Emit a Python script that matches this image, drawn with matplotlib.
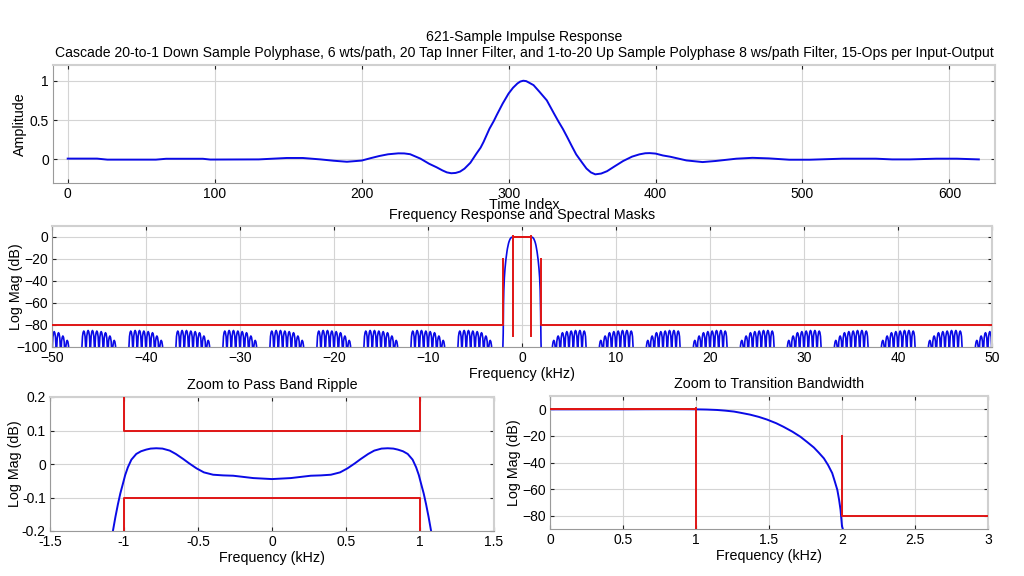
import matplotlib
matplotlib.use("Agg")
import matplotlib.pyplot as plt
import numpy as np

plt.rcParams["font.family"] = ["Liberation Sans", "DejaVu Sans"]
plt.rcParams["font.size"] = 10

# impulse response (sample index, amplitude)
ir_n = [0, 20, 27, 60, 67, 92, 97, 130, 149, 160, 172, 181, 190, 200, 206,
        212, 218, 225, 229, 233, 240, 246, 251, 255, 258, 261, 264, 267, 270,
        274, 278, 281, 283, 287, 290, 292, 296, 300, 303, 306, 308, 310, 312,
        314, 317, 321, 326, 331, 334, 337, 340, 343, 346, 350, 353, 356, 359,
        363, 367, 372, 378, 384, 389, 393, 396, 400, 405, 410, 421, 432, 441,
        455, 466, 477, 491, 505, 527, 550, 561, 573, 591, 605, 620]
ir_amp = [0.01, 0.01, -0.003, -0.003, 0.008, 0.008, -0.002, 0.0, 0.018, 0.018,
          0.0, -0.017, -0.03, -0.015, 0.015, 0.043, 0.065, 0.077, 0.076, 0.066,
          0.01, -0.056, -0.1, -0.14, -0.165, -0.176, -0.172, -0.155, -0.118,
          -0.043, 0.07, 0.15, 0.223, 0.39, 0.49, 0.566, 0.71, 0.837, 0.91,
          0.965, 0.99, 1.0, 0.995, 0.975, 0.944, 0.86, 0.751, 0.58, 0.48,
          0.386, 0.28, 0.17, 0.064, -0.04, -0.116, -0.165, -0.19, -0.18,
          -0.15, -0.09, -0.02, 0.035, 0.064, 0.078, 0.08, 0.074, 0.05, 0.034,
          -0.013, -0.034, -0.02, 0.009, 0.02, 0.013, -0.004, -0.004, 0.009,
          0.009, 0.0, 0.0, 0.009, 0.009, 0.0]

# pass band, positive half (kHz, dB)
pb_khz = [0.0, 0.127, 0.262, 0.33, 0.398, 0.46, 0.51, 0.56, 0.60, 0.65,
          0.691, 0.74, 0.782, 0.82, 0.85, 0.885, 0.917, 0.95, 0.974, 0.992,
          1.008, 1.025, 1.041, 1.058, 1.075]
pb_db = [-0.045, -0.042, -0.035, -0.034, -0.032, -0.025, -0.013, 0.002, 0.015,
         0.03, 0.04, 0.046, 0.047, 0.046, 0.043, 0.038, 0.03, 0.013, -0.01,
         -0.033, -0.06, -0.088, -0.12, -0.158, -0.2]

# transition band (kHz, dB)
tb_khz = [1.144, 1.2, 1.26, 1.3, 1.37, 1.43, 1.486, 1.55, 1.6, 1.66, 1.716,
          1.76, 1.807, 1.84, 1.876, 1.905, 1.933, 1.95, 1.968, 1.98, 1.99,
          2.0, 2.02, 2.05]
tb_db = [-0.5, -1.0, -1.7, -2.5, -4.0, -5.7, -7.7, -10.5, -13.2, -16.8,
         -20.7, -24.5, -28.7, -32.5, -36.9, -42.0, -48.0, -54.0, -60.6, -68.0,
         -75.6, -88.0, -95.0, -105.0]

# stop band lobe groups (group centres in kHz, lobe peaks outer->inner edge)
group_khz = [-50, -45, -40, -35, -30, -25, -20, -15, -10, -5,
             5, 10, 15, 20, 25, 30, 35, 40, 45, 50]
group_halfwidth = 1.85
lobe_peak_db = [-85.5, -85.0, -85.0, -85.5, -86.0, -87.0, -90.0, -94.0]
lobe_shape_pos = [0.0, 0.08, 0.2, 0.35, 0.5, 0.65, 0.8, 0.92, 1.0]
lobe_shape_db = [-40.0, -14.0, -5.0, -1.2, 0.0, -1.2, -5.0, -14.0, -40.0]

# spectral masks (kHz, dB)
mask_hi_khz = [-1, -1, 1, 1]
mask_hi_db = [1.0, 0.1, 0.1, 1.0]
mask_lo_khz = [-1, -1, 1, 1]
mask_lo_db = [-90, -0.1, -0.1, -90]
mask_sl_khz = [-50, -2, -2]
mask_sl_db = [-80, -80, -20]
mask_sr_khz = [2, 2, 50]
mask_sr_db = [-20, -80, -80]

BLUE = "#0a0ae6"
RED = "#e01515"
FS = 10.3


def group_curve(center, side):
    peaks = lobe_peak_db if side < 0 else lobe_peak_db[::-1]
    lw = 2 * group_halfwidth / len(peaks)
    start = center - group_halfwidth
    f, d = [], []
    for i, p in enumerate(peaks):
        for s, o in zip(lobe_shape_pos, lobe_shape_db):
            f.append(start + (i + s) * lw)
            d.append(p + o)
    return f, d


# one-sided main lobe then mirrored
half_f = pb_khz + tb_khz
half_d = pb_db + tb_db
main_f = [-x for x in half_f[::-1]] + half_f[1:]
main_d = half_d[::-1] + half_d[1:]

spec_f, spec_d = [], []
for c in [g for g in group_khz if g < 0]:
    f, d = group_curve(c, -1)
    spec_f += f
    spec_d += d
spec_f += main_f
spec_d += main_d
for c in [g for g in group_khz if g > 0]:
    f, d = group_curve(c, 1)
    spec_f += f
    spec_d += d


def style(ax):
    ax.grid(True, color="#d4d4d4", linewidth=0.8)
    ax.set_axisbelow(True)
    for s in ["bottom", "left"]:
        ax.spines[s].set_color("#9a9a9a")
    for s in ["top", "right"]:
        ax.spines[s].set_color("#d0d0d0")
        ax.spines[s].set_linewidth(1.5)
    ax.tick_params(direction="in", length=3, top=True, right=True,
                   labelsize=10, pad=3, color="#222222")


def masks(ax):
    for fx, dy in [(mask_hi_khz, mask_hi_db), (mask_lo_khz, mask_lo_db),
                   (mask_sl_khz, mask_sl_db), (mask_sr_khz, mask_sr_db)]:
        ax.plot(fx, dy, color=RED, lw=1.4, zorder=4)


W, H = 1024, 576
fig = plt.figure(figsize=(W / 100, H / 100), dpi=100)


def box(l, t, r, b):
    return [l / W, 1 - b / H, (r - l) / W, (b - t) / H]


# top: impulse response
ax1 = fig.add_axes(box(53, 65, 995, 183))
ax1.plot(ir_n, ir_amp, color=BLUE, lw=1.4)
ax1.set_xlim(-10, 631)
ax1.set_ylim(-0.3, 1.2)
ax1.set_xticks([0, 100, 200, 300, 400, 500, 600])
ax1.set_yticks([0, 0.5, 1])
ax1.set_yticklabels(["0", "0.5", "1"])
style(ax1)
ax1.set_title("621-Sample Impulse Response\nCascade 20-to-1 Down Sample Polyphase, 6 wts/path, "
              "20 Tap Inner Filter, and 1-to-20 Up Sample Polyphase 8 ws/path Filter, "
              "15-Ops per Input-Output", fontsize=10.05, pad=6, linespacing=1.15)
ax1.set_xlabel("Time Index", fontsize=FS, labelpad=-2)
ax1.set_ylabel("Amplitude", fontsize=FS)
ax1.yaxis.set_label_coords(-0.0276, 0.5)

# middle: full frequency response with masks
ax2 = fig.add_axes(box(52, 226, 992, 347))
ax2.plot(spec_f, spec_d, color=BLUE, lw=1.2)
masks(ax2)
ax2.set_xlim(-50, 50)
ax2.set_ylim(-100, 10)
ax2.set_xticks(range(-50, 51, 10))
ax2.set_yticks(range(-100, 1, 20))
style(ax2)
ax2.set_title("Frequency Response and Spectral Masks", fontsize=FS, pad=5)
ax2.set_xlabel("Frequency (kHz)", fontsize=FS, labelpad=1)
ax2.set_ylabel("Log Mag (dB)", fontsize=FS)
ax2.yaxis.set_label_coords(-0.031, 0.5)

# bottom left: pass band ripple
ax3 = fig.add_axes(box(50, 397, 494, 531))
ax3.plot(main_f, main_d, color=BLUE, lw=1.4)
masks(ax3)
ax3.set_xlim(-1.5, 1.5)
ax3.set_ylim(-0.2, 0.2)
ax3.set_xticks([-1.5, -1, -0.5, 0, 0.5, 1, 1.5])
ax3.set_xticklabels(["-1.5", "-1", "-0.5", "0", "0.5", "1", "1.5"])
ax3.set_yticks([-0.2, -0.1, 0, 0.1, 0.2])
ax3.set_yticklabels(["-0.2", "-0.1", "0", "0.1", "0.2"])
style(ax3)
ax3.set_title("Zoom to Pass Band Ripple", fontsize=FS, pad=6)
ax3.set_xlabel("Frequency (kHz)", fontsize=FS, labelpad=1)
ax3.set_ylabel("Log Mag (dB)", fontsize=FS)
ax3.yaxis.set_label_coords(-0.063, 0.5)

# bottom right: transition band
ax4 = fig.add_axes(box(550, 396, 988, 529))
ax4.plot(main_f, main_d, color=BLUE, lw=1.4)
masks(ax4)
ax4.set_xlim(0, 3)
ax4.set_ylim(-90, 10)
ax4.set_xticks([0, 0.5, 1, 1.5, 2, 2.5, 3])
ax4.set_xticklabels(["0", "0.5", "1", "1.5", "2", "2.5", "3"])
ax4.set_yticks([-80, -60, -40, -20, 0])
style(ax4)
ax4.set_title("Zoom to Transition Bandwidth", fontsize=FS, pad=6)
ax4.set_xlabel("Frequency (kHz)", fontsize=FS, labelpad=1)
ax4.set_ylabel("Log Mag (dB)", fontsize=FS)
ax4.yaxis.set_label_coords(-0.066, 0.5)

fig.savefig("out.png", dpi=100, facecolor="white")
